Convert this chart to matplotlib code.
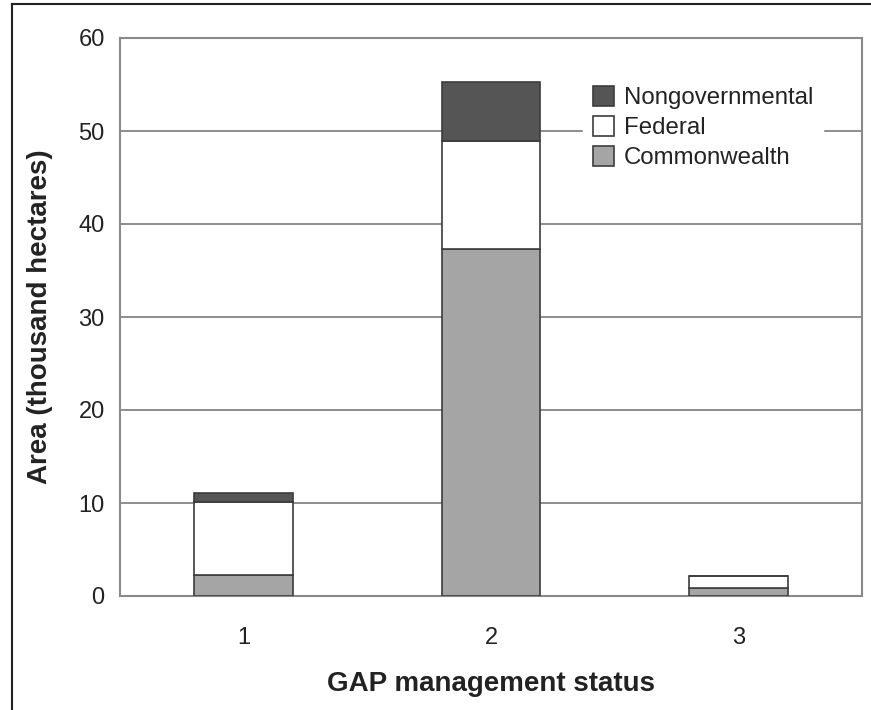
import matplotlib
matplotlib.use("Agg")
import matplotlib.pyplot as plt
from matplotlib.lines import Line2D
import numpy as np

plt.rcParams['font.family'] = ['Liberation Sans', 'DejaVu Sans']

categories = ["1", "2", "3"]
commonwealth = [2.3, 37.3, 0.9]
federal = [7.8, 11.6, 1.3]
nongovernmental = [1.0, 6.4, 0.0]
yticks = [0, 10, 20, 30, 40, 50, 60]

fig = plt.figure(figsize=(8.71, 7.10), dpi=100)
ax = fig.add_axes([120/871, 1 - 596/710, (862-120)/871, (596-38)/710])

x = np.arange(1, len(categories) + 1)
w = 0.4
edge = "#3c3c3c"
bottom2 = np.array(commonwealth) + np.array(federal)
ax.bar(x, commonwealth, w, color="#a5a5a5", edgecolor=edge, linewidth=1.2, label="Commonwealth", zorder=3)
ax.bar(x, federal, w, bottom=commonwealth, color="white", edgecolor=edge, linewidth=1.2, label="Federal", zorder=3)
ax.bar(x, nongovernmental, w, bottom=bottom2, color="#555555", edgecolor=edge, linewidth=1.2, label="Nongovernmental", zorder=3)

ax.set_xlim(0.5, 3.5)
ax.set_ylim(0, 60)
ax.set_yticks(yticks)
ax.set_xticks(x)
ax.set_xticklabels(categories)
ax.tick_params(axis='both', length=0, labelsize=17, colors="#222222")
ax.tick_params(axis='y', pad=11)
ax.tick_params(axis='x', pad=22)
ax.yaxis.grid(True, color="#7a7a7a", linewidth=1.2, zorder=0)
for s in ax.spines.values():
    s.set_color("#8a8a8a")
    s.set_linewidth(1.5)

ax.set_ylabel("Area (thousand hectares)", fontsize=20, fontweight="bold", color="#222222", va="center")
ax.yaxis.set_label_coords((40 - 120) / 742, 0.5)
ax.set_xlabel("GAP management status", fontsize=20, fontweight="bold", color="#222222", va="center")
ax.xaxis.set_label_coords(0.5, (596 - 684) / 558)

handles, labels = ax.get_legend_handles_labels()
leg = ax.legend(handles[::-1], labels[::-1], loc="upper left", bbox_to_anchor=((571 - 120) / 742, (596 - 64) / 558),
                fontsize=17.3, frameon=True, facecolor="white", edgecolor="white", framealpha=1,
                handlelength=0.9, handleheight=0.9, handletextpad=0.4, labelspacing=0.28,
                borderpad=0.4)
leg.set_zorder(5)
for t in leg.get_texts():
    t.set_color("#222222")

# outer frame (top and left)
fig.add_artist(Line2D([12/871, 1], [1 - 4/710, 1 - 4/710], color="#222222", linewidth=1.5, transform=fig.transFigure))
fig.add_artist(Line2D([12/871, 12/871], [0, 1 - 4/710], color="#222222", linewidth=1.5, transform=fig.transFigure))

fig.savefig("out.png", dpi=100)
